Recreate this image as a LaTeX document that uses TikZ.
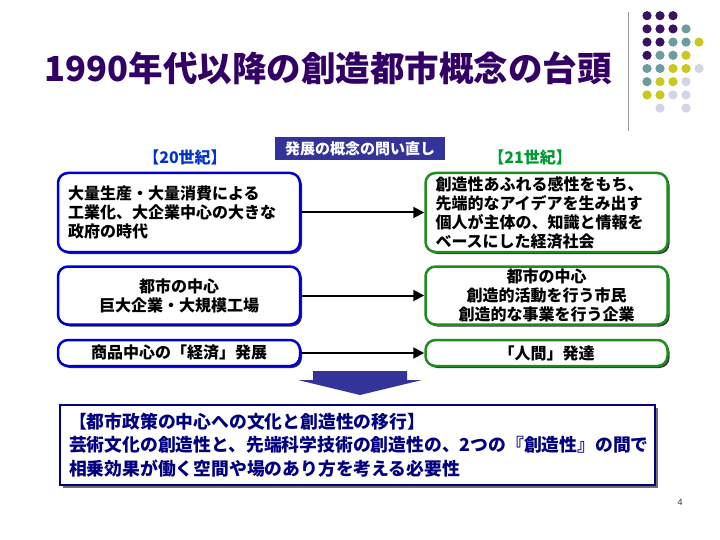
\documentclass[tikz,border=0pt]{standalone}
\usepackage{fontspec}
\newfontfamily\cjk{Noto Sans CJK JP}
\newfontfamily\arial{Liberation Sans}
\usetikzlibrary{positioning,shadows,arrows.meta}

\definecolor{titlepurple}{HTML}{330066}
\definecolor{dotpurple}{HTML}{3A1262}
\definecolor{dotteal}{HTML}{6A9E9E}
\definecolor{dotyellow}{HTML}{C8C81E}
\definecolor{dotlav}{HTML}{D4D4E8}
\definecolor{boxblue}{HTML}{0000CC}
\definecolor{boxgreen}{HTML}{1E8C1E}
\definecolor{erablue}{HTML}{0033CC}
\definecolor{eragreen}{HTML}{009933}
\definecolor{banner}{HTML}{333399}
\definecolor{navy}{HTML}{000080}

\begin{document}
\begin{tikzpicture}[x=1pt,y=-1pt,
	lbox/.style={draw=boxblue,line width=2.5pt,rounded corners=10pt,fill=white,
		drop shadow={shadow xshift=2pt,shadow yshift=-2pt,fill=black,opacity=.8},
		text width=222pt,inner xsep=10pt,inner ysep=0pt,
		font=\cjk\bfseries\fontsize{16}{19}\selectfont},
	rbox/.style={lbox,draw=boxgreen},
	flow/.style={line width=2pt,-{Triangle[length=11pt,width=11pt]}},
	era/.style={font=\cjk\bfseries\fontsize{16}{18}\selectfont}]
		\useasboundingbox[fill=white] (0,0) rectangle (720,540);
		% title and corner ornament
		\node[font=\cjk\bfseries\fontsize{34.5}{38}\selectfont,text=titlepurple] (title) at (328,68) {1990年代以降の創造都市概念の台頭};
		\draw[gray!80,line width=1pt] (628,12) -- (628,131);
		\foreach \c/\r/\col in {0/0/dotpurple,1/0/dotpurple,2/0/dotpurple,
				0/1/dotpurple,1/1/dotpurple,2/1/dotpurple,3/1/dotteal,
				0/2/dotpurple,1/2/dotpurple,2/2/dotteal,3/2/dotteal,4/2/dotyellow,
				0/3/dotpurple,1/3/dotteal,2/3/dotteal,3/3/dotyellow,
				0/4/dotteal,1/4/dotteal,2/4/dotyellow,3/4/dotyellow,4/4/dotlav,
				0/5/dotteal,1/5/dotyellow,2/5/dotyellow,3/5/dotlav,
				0/6/dotyellow,1/6/dotyellow,2/6/dotlav,3/6/dotlav,
				1/7/dotlav,3/7/dotlav}
			\fill[\col] (647+13*\c,15.7+13.2*\r) circle (4.6);
		% headings
		\node[era,text=erablue] (e20) at (185,157) {【20世紀】};
		\node[era,text=eragreen] (e21) at (530,157) {【21世紀】};
		\node[fill=banner,text=white,minimum width=170pt,minimum height=23pt,inner sep=0pt,
			font=\cjk\bfseries\fontsize{15}{16}\selectfont] (ask) at (360,148.5) {発展の概念の問い直し};
		% 20th vs 21st century
		\node[lbox,align=left,minimum height=79pt] (l1) at (179,212.5) {大量生産・大量消費による\\工業化、大企業中心の大きな\\政府の時代};
		\node[rbox,align=left,minimum height=79pt,right=123pt of l1] (r1) {創造性あふれる感性をもち、\\先端的なアイデアを生み出す\\個人が主体の、知識と情報を\\ベースにした経済社会};
		\node[lbox,align=center,minimum height=58pt,below=12pt of l1] (l2) {都市の中心\\巨大企業・大規模工場};
		\node[rbox,align=center,minimum height=58pt,right=123pt of l2] (r2) {都市の中心\\創造的活動を行う市民\\創造的な事業を行う企業};
		\node[lbox,align=center,minimum height=26pt,below=13pt of l2] (l3) {商品中心の「経済」発展};
		\node[rbox,align=center,minimum height=26pt,right=123pt of l3] (r3) {「人間」発達};
		\draw[flow] (l1) -- (r1);
		\draw[flow] (l2) -- (r2);
		\draw[flow] (l3) -- (r3);
		% down arrow
		\fill[banner] (313,371) -- (407,371) -- (407,380) -- (422,380) -- (360,395) -- (298,380) -- (313,380) -- cycle;
		% conclusion
		\node[draw=navy,line width=2.5pt,fill=white,text=navy,
			drop shadow={shadow xshift=3pt,shadow yshift=-3pt,fill=black!70,opacity=.8},
			minimum height=80pt,text width=577pt,inner xsep=9pt,align=left,
			font=\cjk\bfseries\fontsize{17.8}{23.5}\selectfont] (policy) at (357.5,445)
			{【都市政策の中心への文化と創造性の移行】\\芸術文化の創造性と、先端科学技術の創造性の、2つの『創造性』の間で\\相乗効果が働く空間や場のあり方を考える必要性};
		\node[font=\arial\fontsize{9}{9}\selectfont,text=black!80] (pageno) at (680,502) {4};
\end{tikzpicture}
\end{document}
